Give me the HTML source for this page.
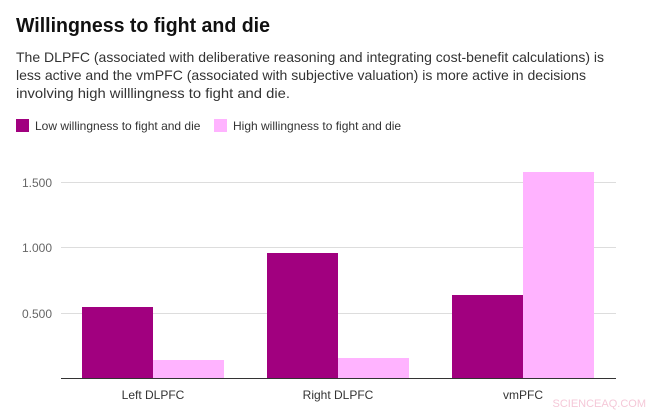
<!DOCTYPE html>
<html><head><meta charset="utf-8"><style>
body{margin:0;background:#fff;width:661px;height:412px;overflow:hidden;font-family:"Liberation Sans",sans-serif;}
</style></head><body>
<svg width="661" height="412" xmlns="http://www.w3.org/2000/svg" font-family="Liberation Sans, sans-serif">
<text x="16" y="32" font-size="20" font-weight="bold" fill="#111" textLength="254" lengthAdjust="spacingAndGlyphs">Willingness to fight and die</text>
<text font-size="14" fill="#333">
<tspan x="16" y="62" textLength="588" lengthAdjust="spacingAndGlyphs">The DLPFC (associated with deliberative reasoning and integrating cost-benefit calculations) is</tspan>
<tspan x="16" y="80" textLength="570" lengthAdjust="spacingAndGlyphs">less active and the vmPFC (associated with subjective valuation) is more active in decisions</tspan>
<tspan x="16" y="98" textLength="274" lengthAdjust="spacingAndGlyphs">involving high willlingness to fight and die.</tspan>
</text>
<rect x="16" y="119" width="13" height="13" fill="#a1007f"/>
<text x="35" y="130" font-size="12" fill="#333">Low willingness to fight and die</text>
<rect x="214" y="119" width="13" height="13" fill="#ffb3ff"/>
<text x="233" y="130" font-size="12" fill="#333">High willingness to fight and die</text>
<g stroke="#ddd" stroke-width="1">
<line x1="61" y1="182.5" x2="616" y2="182.5"/>
<line x1="61" y1="247.5" x2="616" y2="247.5"/>
<line x1="61" y1="313.5" x2="616" y2="313.5"/>
</g>
<g font-size="12" fill="#666" text-anchor="end">
<text x="52" y="187">1.500</text>
<text x="52" y="252">1.000</text>
<text x="52" y="318">0.500</text>
</g>
<g fill="#a1007f">
<rect x="82" y="307" width="71" height="71"/>
<rect x="267" y="253" width="71" height="125"/>
<rect x="452" y="295" width="71" height="83"/>
</g>
<g fill="#ffb3ff">
<rect x="153" y="360" width="71" height="18"/>
<rect x="338" y="358" width="71" height="20"/>
<rect x="523" y="172" width="71" height="206"/>
</g>
<line x1="61" y1="378.5" x2="616" y2="378.5" stroke="#333" stroke-width="1"/>
<g font-size="12" fill="#333" text-anchor="middle">
<text x="153" y="399">Left DLPFC</text>
<text x="338" y="399">Right DLPFC</text>
<text x="523" y="399">vmPFC</text>
</g>
<text x="646" y="407" font-size="11" fill="#f5c8d8" text-anchor="end">SCIENCEAQ.COM</text>
</svg>
</body></html>
